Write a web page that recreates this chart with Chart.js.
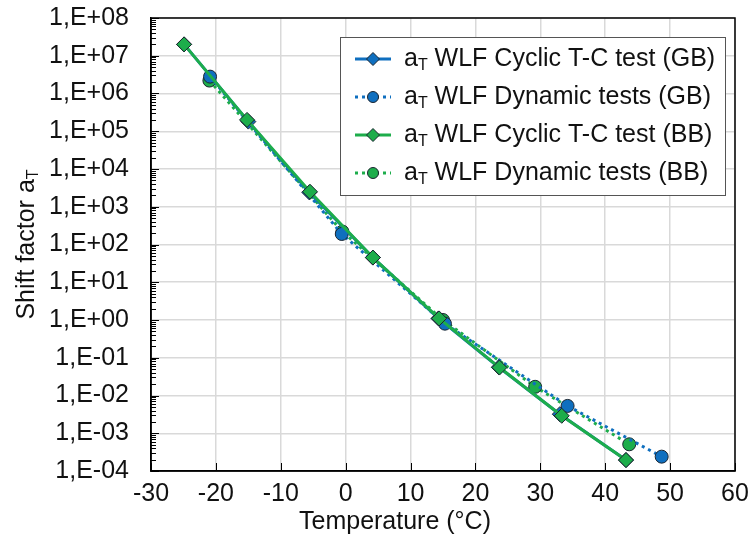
<!DOCTYPE html>
<html lang="en">
<head>
    <meta charset="UTF-8">
    <title>Shift factor aT - WLF</title>
    <script src="https://cdn.jsdelivr.net/npm/chart.js@4"></script>
    <style>
        body { margin: 0; background: #fff; }
    </style>
</head>
<body>
    <canvas id="shiftChart" width="749" height="541"></canvas>

    <script>
// Températures (°C) et facteurs de décalage aT
const tempCyclicGB = [-24.9, -15.0, -5.6, 4.2, 14.3, 23.6, 33.0, 43.2];
const aTCyclicGB = [2.0e7, 1.8e5, 2.4e3, 45, 1.1, 0.056, 0.0032, 1.95e-4];
const tempDynamicGB = [-20.9, -0.6, 15.3, 34.2, 48.7];
const aTDynamicGB = [2.8e6, 1.9e2, 0.8, 5.3e-3, 2.4e-4];
const tempCyclicBB = [-24.9, -15.2, -5.5, 4.2, 14.4, 23.7, 33.3, 43.2];
const aTCyclicBB = [2.0e7, 2.0e5, 2.5e3, 45, 1.1, 0.055, 0.0029, 1.95e-4];
const tempDynamicBB = [-21.0, -0.5, 15.0, 29.2, 43.7];
const aTDynamicBB = [2.2e6, 2.2e2, 1.0, 0.017, 5.1e-4];

const seriesNames = [
    'WLF Cyclic T-C test (GB)',
    'WLF Dynamic tests (GB)',
    'WLF Cyclic T-C test (BB)',
    'WLF Dynamic tests (BB)'
];

const xTicks = [-30, -20, -10, 0, 10, 20, 30, 40, 50, 60];
const yTickExponents = [-4, -3, -2, -1, 0, 1, 2, 3, 4, 5, 6, 7, 8];
const yTickLabels = ['1,E-04', '1,E-03', '1,E-02', '1,E-01', '1,E+00', '1,E+01', '1,E+02',
                     '1,E+03', '1,E+04', '1,E+05', '1,E+06', '1,E+07', '1,E+08'];

const xTitle = 'Temperature (°C)';
const yTitle = 'Shift factor a';

const FONT = '"Liberation Sans", Arial, sans-serif';
const SIZE = 25;
const BLUE = '#0f6fbf';
const GREEN = '#1dad4b';
const EDGE = '#1b2530';

function points(xs, ys) {
    return xs.map((x, i) => ({ x: x, y: ys[i] }));
}

function makeSet(label, xs, ys, color, dotted, style, radius, order) {
    return {
        label: label,
        data: points(xs, ys),
        showLine: true,
        borderColor: color,
        backgroundColor: color,
        borderWidth: 3,
        borderDash: dotted ? [3, 4] : [],
        pointStyle: style,
        pointRadius: radius,
        pointBackgroundColor: color,
        pointBorderColor: EDGE,
        pointBorderWidth: 1,
        order: order
    };
}

// texte avec un "T" en indice (a_T)
function drawSubText(ctx, x, y, before, sub, after) {
    ctx.font = SIZE + 'px ' + FONT;
    ctx.fillText(before, x, y);
    x += ctx.measureText(before).width;
    ctx.font = '16px ' + FONT;
    ctx.fillText(sub, x, y + 7);
    x += ctx.measureText(sub).width;
    ctx.font = SIZE + 'px ' + FONT;
    ctx.fillText(after, x, y);
}

function subTextWidth(ctx, before, sub, after) {
    ctx.font = SIZE + 'px ' + FONT;
    let w = ctx.measureText(before).width + ctx.measureText(after).width;
    ctx.font = '16px ' + FONT;
    return w + ctx.measureText(sub).width;
}

// pas de marge automatique autour des axes
function noPadding(s) {
    s.paddingTop = 0;
    s.paddingBottom = 0;
    s.paddingLeft = 0;
    s.paddingRight = 0;
}

// cadre, petites graduations, titres et légende
const decorPlugin = {
    id: 'decor',
    afterDraw(chart) {
        const ctx = chart.ctx;
        const area = chart.chartArea;
        const xs = chart.scales.x;
        const ys = chart.scales.y;
        ctx.save();

        ctx.strokeStyle = '#000';
        ctx.lineWidth = 1.5;
        ctx.strokeRect(area.left, area.top, area.right - area.left, area.bottom - area.top);

        ctx.lineWidth = 1;
        ctx.beginPath();
        for (let e = -4; e <= 8; e++) {
            const yMaj = Math.round(ys.getPixelForValue(Math.pow(10, e))) + 0.5;
            ctx.moveTo(area.left, yMaj);
            ctx.lineTo(area.left + 8, yMaj);
            if (e === 8) continue;
            for (let m = 2; m <= 9; m++) {
                const y = Math.round(ys.getPixelForValue(m * Math.pow(10, e))) + 0.5;
                ctx.moveTo(area.left, y);
                ctx.lineTo(area.left + 5, y);
            }
        }
        xTicks.forEach(t => {
            const x = Math.round(xs.getPixelForValue(t)) + 0.5;
            ctx.moveTo(x, area.bottom);
            ctx.lineTo(x, area.bottom - 8);
        });
        ctx.stroke();

        // titres des axes
        ctx.fillStyle = '#111';
        ctx.textBaseline = 'middle';
        ctx.textAlign = 'center';
        ctx.font = SIZE + 'px ' + FONT;
        ctx.fillText(xTitle, 395, 522);

        ctx.textAlign = 'left';
        ctx.save();
        ctx.translate(27, (area.top + area.bottom) / 2);
        ctx.rotate(-Math.PI / 2);
        const tw = subTextWidth(ctx, yTitle, 'T', '');
        drawSubText(ctx, -tw / 2, 0, yTitle, 'T', '');
        ctx.restore();

        // légende
        const box = { x: 340, y: 37, w: 385, h: 158 };
        ctx.fillStyle = '#fff';
        ctx.fillRect(box.x, box.y, box.w, box.h);
        ctx.strokeStyle = '#555';
        ctx.lineWidth = 1;
        ctx.strokeRect(box.x + 0.5, box.y + 0.5, box.w, box.h);

        chart.data.datasets.forEach((ds, i) => {
            const cy = box.y + 22 + i * 38;
            ctx.strokeStyle = ds.borderColor;
            ctx.lineWidth = ds.borderWidth;
            ctx.setLineDash(ds.borderDash);
            ctx.beginPath();
            ctx.moveTo(355, cy);
            ctx.lineTo(391, cy);
            ctx.stroke();
            ctx.setLineDash([]);
            ctx.fillStyle = ds.pointBackgroundColor;
            ctx.strokeStyle = ds.pointBorderColor;
            ctx.lineWidth = 1;
            Chart.helpers.drawPoint(ctx, {
                pointStyle: ds.pointStyle,
                radius: ds.pointStyle === 'circle' ? 5.5 : 6.5,
                rotation: 0,
                borderWidth: 1
            }, 373, cy);
            ctx.fillStyle = '#111';
            drawSubText(ctx, 404, cy, 'a', 'T', ' ' + seriesNames[i]);
        });

        ctx.restore();
    }
};

const ctx = document.getElementById('shiftChart').getContext('2d');
const shiftChart = new Chart(ctx, {
    type: 'scatter',
    data: {
        datasets: [
            makeSet(seriesNames[0], tempCyclicGB, aTCyclicGB, BLUE, false, 'rectRot', 7.5, 1),
            makeSet(seriesNames[1], tempDynamicGB, aTDynamicGB, BLUE, true, 'circle', 6.5, 2),
            makeSet(seriesNames[2], tempCyclicBB, aTCyclicBB, GREEN, false, 'rectRot', 7.5, 0),
            makeSet(seriesNames[3], tempDynamicBB, aTDynamicBB, GREEN, true, 'circle', 6.5, 3)
        ]
    },
    options: {
        responsive: false,
        animation: false,
        devicePixelRatio: 1,
        layout: { padding: { top: 18, right: 14, left: 0, bottom: 0 } },
        plugins: {
            legend: { display: false },
            tooltip: { enabled: false }
        },
        scales: {
            x: {
                type: 'linear',
                min: -30,
                max: 60,
                afterBuildTicks: s => { s.ticks = xTicks.map(v => ({ value: v })); },
                afterFit: s => { s.height = 70; noPadding(s); },
                ticks: {
                    color: '#111',
                    font: { family: FONT, size: SIZE },
                    padding: 8,
                    maxRotation: 0,
                    autoSkip: false
                },
                grid: { color: '#d9d9d9', lineWidth: 1.5, drawTicks: false },
                border: { display: true, color: '#000', width: 1.5 }
            },
            y: {
                type: 'logarithmic',
                min: 1e-4,
                max: 1e8,
                afterBuildTicks: s => { s.ticks = yTickExponents.map(e => ({ value: Math.pow(10, e) })); },
                afterFit: s => { s.width = 151; noPadding(s); },
                ticks: {
                    color: '#111',
                    font: { family: FONT, size: SIZE },
                    padding: 22,
                    autoSkip: false,
                    callback: (v, i) => yTickLabels[i]
                },
                grid: { color: '#d9d9d9', lineWidth: 1.5, drawTicks: false },
                border: { display: true, color: '#000', width: 1.5 }
            }
        }
    },
    plugins: [decorPlugin]
});
    </script>
</body>
</html>
